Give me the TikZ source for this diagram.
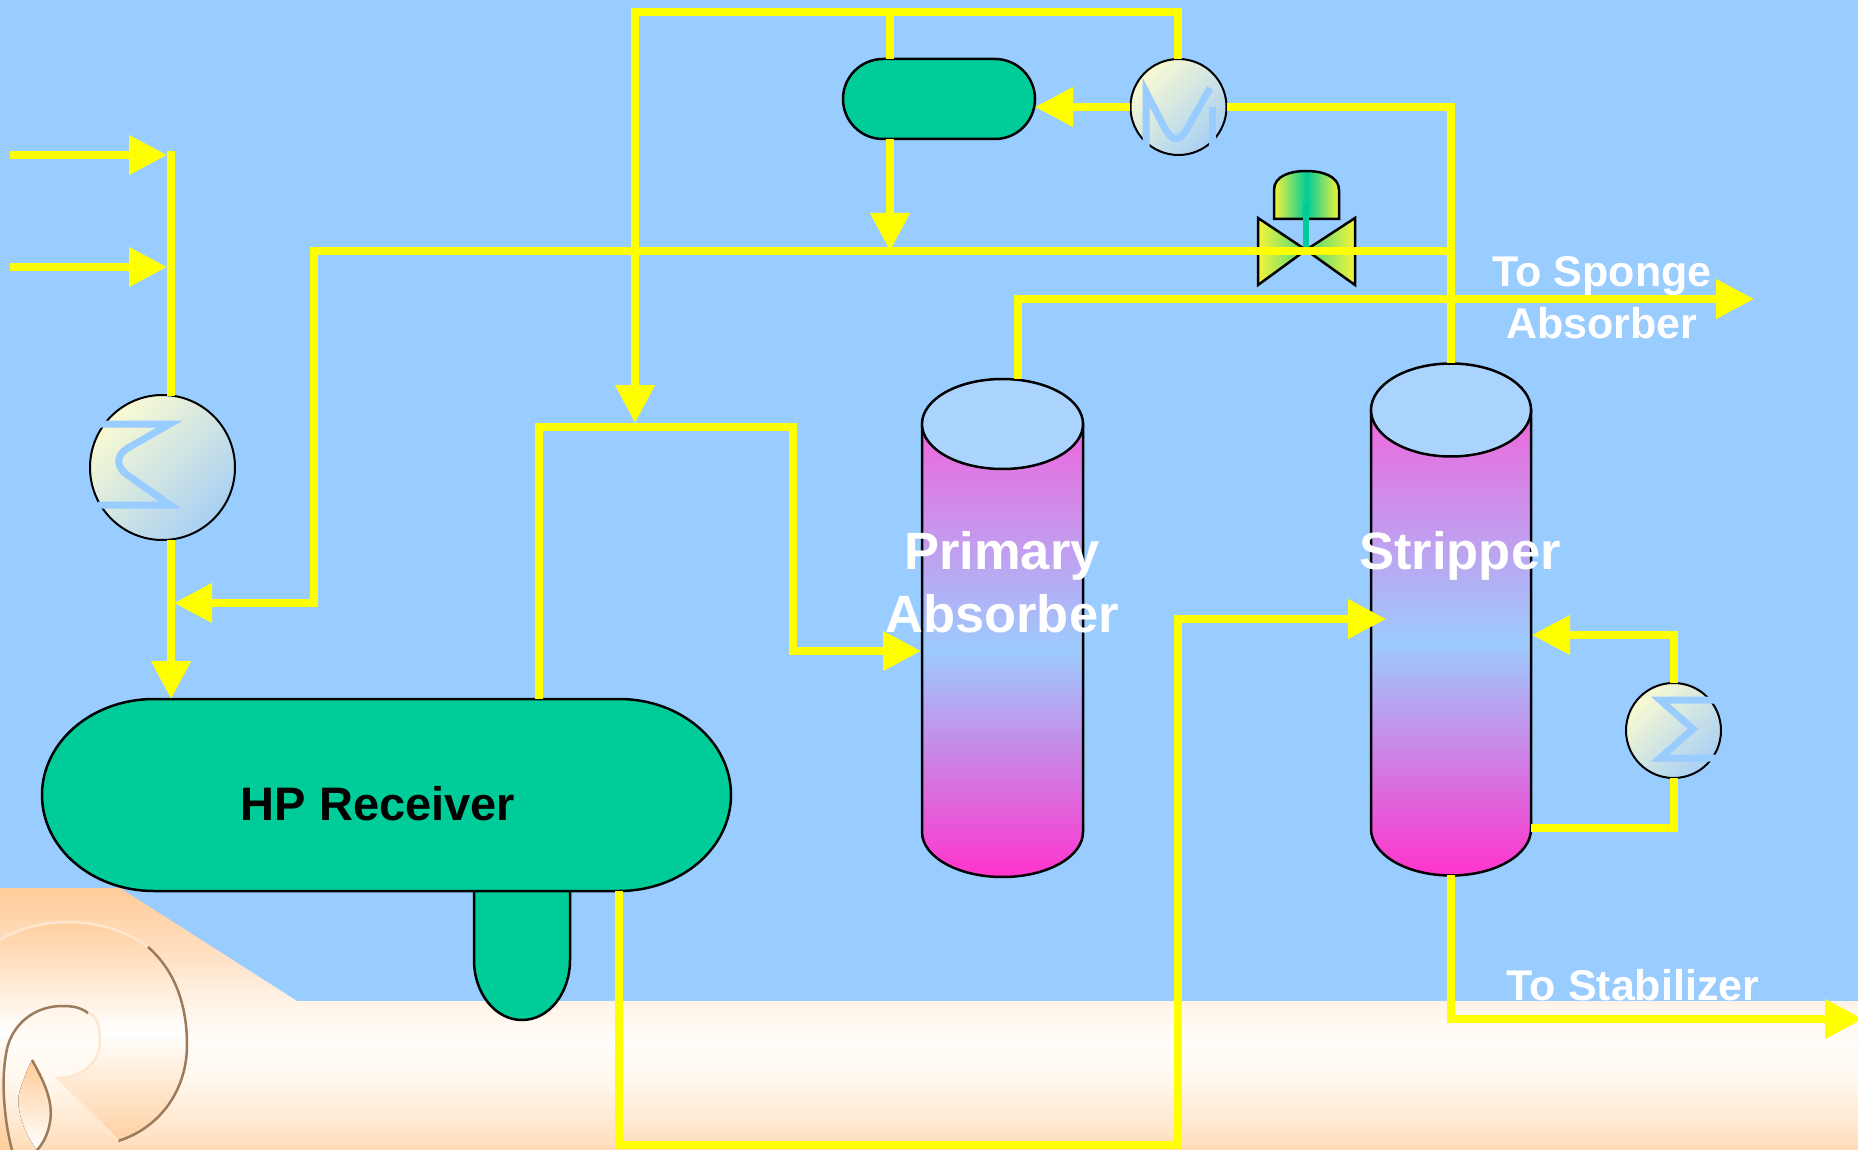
\documentclass[tikz,border=0pt]{standalone}
\usepackage{fontspec}
\setmainfont{Liberation Sans}
\usetikzlibrary{arrows.meta}

% palette
\definecolor{bgblue}{HTML}{99CCFF}
\definecolor{pipeyellow}{HTML}{FFFF00}
\definecolor{vesselgreen}{HTML}{00CC99}
\definecolor{towertop}{HTML}{EE66DD}
\definecolor{towermid}{HTML}{9DCBFD}
\definecolor{towerbot}{HTML}{FF33CC}
\definecolor{towercap}{HTML}{AAD4FE}
\definecolor{hxlight}{HTML}{FAFAD2}
\definecolor{hxblue}{HTML}{A8D0F4}
\definecolor{valveyellow}{HTML}{F4F43A}
\definecolor{peach}{HTML}{FFCC99}
\definecolor{bandA}{HTML}{FFE2C6}
\definecolor{bandB}{HTML}{FFF3E6}
\definecolor{bandC}{HTML}{FFFDF8}
\definecolor{bandD}{HTML}{FFF8EE}
\definecolor{bandE}{HTML}{FFE9D2}
\definecolor{bandF}{HTML}{FFDCB8}
\definecolor{logobrown}{HTML}{9C7B5C}
\definecolor{logolight}{HTML}{FFE6CF}

% ground band: peach at the top, almost white in the middle, peach again below
\pgfdeclareverticalshading{groundband}{100bp}{%
  color(0bp)=(bandF); color(25bp)=(bandF); color(30.7bp)=(bandE);
  color(38.4bp)=(bandD); color(46bp)=(bandC); color(53.6bp)=(bandB);
  color(61.3bp)=(bandA); color(75bp)=(peach); color(100bp)=(peach)}

% column: shaded shell with a rounded bottom and a light elliptical top
% #1 centre x, #2 radius x, #3 top centre y, #4 bottom centre y, #5 radius y
\newcommand{\drawtower}[5]{%
  \pgfmathsetmacro\twl{#1-#2}\pgfmathsetmacro\twr{#1+#2}%
  \pgfmathsetmacro\twkx{0.5523*#2}\pgfmathsetmacro\twky{#4+0.5523*#5}%
  \pgfmathsetmacro\twb{#4+#5}%
  \shadedraw[tower]
    (\twl,#3) -- (\twl,#4)
    .. controls (\twl,\twky) and (#1-\twkx,\twb) .. (#1,\twb)
    .. controls (#1+\twkx,\twb) and (\twr,\twky) .. (\twr,#4)
    -- (\twr,#3) -- cycle;
  \filldraw[fill=towercap, draw=black, line width=2.5pt]
    (#1,#3) ellipse [x radius=#2, y radius=#5];
}

\tikzset{
  pipe/.style={draw=pipeyellow, line width=7.5pt},
  flow/.style={pipe, -{Triangle[length=38pt,width=38pt]}},
  vessel/.style={fill=vesselgreen, draw=black, line width=2.5pt},
  tower/.style={top color=towertop, bottom color=towerbot, middle color=towermid,
                draw=black, line width=2.5pt},
  hx/.style={top color=hxlight, bottom color=hxblue, shading angle=45,
             draw=black, line width=2pt},
  hxsym/.style={draw=bgblue, line width=7pt},
  valvebody/.style={draw=black, line width=2.5pt},
  whitelabel/.style={anchor=base, inner sep=0pt, text=white},
  bigfont/.style={font=\bfseries\fontsize{52.5}{60}\selectfont},
  smallfont/.style={font=\bfseries\fontsize{43}{50}\selectfont},
}

\begin{document}
\begin{tikzpicture}[x=1pt, y=-1pt]
\useasboundingbox (0,0) rectangle (1858,1150);

% sky and ground
\fill[bgblue] (0,0) rectangle (1858,1150);
\shade[shading=groundband]
  (0,888) -- (120,888) -- (297,1001) -- (1858,1001) -- (1858,1150) -- (0,1150) -- cycle;

% logo swirl in the corner
\shade[top color=peach, bottom color=peach, middle color=white]
  (0,940) .. controls (40,915) and (105,915) .. (148,947)
  .. controls (172,968) and (187,1000) .. (187,1045)
  .. controls (187,1090) and (160,1128) .. (118,1141)
  -- (58,1078)
  .. controls (82,1078) and (101,1062) .. (100,1040)
  .. controls (100,1025) and (96,1015) .. (88,1013)
  .. controls (80,1007) and (72,1006) .. (62,1006)
  .. controls (38,1006) and (16,1020) .. (8,1045)
  .. controls (0,1075) and (4,1120) .. (12,1150)
  -- (0,1150) -- cycle;
\draw[logolight, line width=2.5pt]
  (0,940) .. controls (40,915) and (105,915) .. (148,947);
\draw[logobrown, line width=2.5pt]
  (148,947) .. controls (172,968) and (187,1000) .. (187,1045)
  .. controls (187,1090) and (160,1128) .. (118,1141);
\draw[logolight, line width=2.5pt]
  (118,1141) -- (58,1078)
  .. controls (82,1078) and (101,1062) .. (100,1040)
  .. controls (100,1025) and (96,1015) .. (88,1013);
\draw[logobrown, line width=2.5pt]
  (88,1013) .. controls (80,1007) and (72,1006) .. (62,1006)
  .. controls (38,1006) and (16,1020) .. (8,1045)
  .. controls (0,1075) and (4,1120) .. (12,1150);
\fill[top color=peach, bottom color=white]
  (32,1060) .. controls (42,1078) and (54,1100) .. (50,1122)
  .. controls (48,1135) and (42,1145) .. (37,1150)
  .. controls (22,1130) and (15,1105) .. (20,1090)
  .. controls (24,1078) and (28,1068) .. (32,1060) -- cycle;
\draw[logobrown, line width=2.5pt]
  (32,1060) .. controls (42,1078) and (54,1100) .. (50,1122)
  .. controls (48,1135) and (42,1145) .. (37,1150);

% HP receiver with its boot
\filldraw[vessel] (474,880) -- (474,960)
  .. controls (474,993) and (495,1020) .. (522,1020)
  .. controls (549,1020) and (570,993) .. (570,960) -- (570,880);
\filldraw[vessel] (154,699) -- (619,699)
  .. controls (681,699) and (731,742) .. (731,795)
  .. controls (731,848) and (681,891) .. (619,891) -- (154,891)
  .. controls (92,891) and (42,848) .. (42,795)
  .. controls (42,742) and (92,699) .. (154,699) -- cycle;
\node[anchor=base, inner sep=0pt, font=\bfseries\fontsize{47}{54}\selectfont]
  (hplabel) at (378,820) {HP Receiver};

% overhead reflux drum
\filldraw[vessel, rounded corners=40pt] (843,59) rectangle (1035,139);

% columns
\drawtower{1002.5}{80.5}{424}{832}{45}
\drawtower{1451}{80}{410}{829}{46.5}
\node[whitelabel, bigfont] (primA) at (1002,569) {Primary};
\node[whitelabel, bigfont] (primB) at (1002,632) {Absorber};
\node[whitelabel, bigfont] (striplabel) at (1460,569) {Stripper};

% heat exchangers
\shadedraw[hx] (162.5,467.5) circle [radius=72.5];
\draw[hxsym] (98,424) -- (170,424) -- (128,448)
  .. controls (116,455) and (116,466) .. (126,474) -- (170,505) -- (98,505);
\shadedraw[hx] (1178.5,107) circle [radius=48];
\draw[hxsym] (1146,150) -- (1146,92) -- (1163,125)
  .. controls (1172,143) and (1180,143) .. (1188,127) -- (1210,88);
\draw[hxsym] (1212,107) -- (1212,150);
\shadedraw[hx] (1673.5,730.5) circle [radius=47.5];
\draw[hxsym] (1726,700) -- (1660,700) -- (1693,729) -- (1660,758) -- (1726,758);

% control valve on the recycle line
\shadedraw[valvebody, left color=valveyellow, right color=vesselgreen!70!valveyellow]
  (1258,218) -- (1306,250) -- (1258,285) -- cycle;
\shadedraw[valvebody, left color=vesselgreen!70!valveyellow, right color=valveyellow]
  (1355,218) -- (1306,250) -- (1355,285) -- cycle;
\shadedraw[valvebody, left color=valveyellow, right color=valveyellow, middle color=vesselgreen]
  (1274,219) -- (1274,190) .. controls (1274,176) and (1290,171) .. (1306,171)
  .. controls (1322,171) and (1339,176) .. (1339,190) -- (1339,219) -- cycle;
\draw[vesselgreen, line width=6pt] (1306,203) -- (1306,247);

% pipe ports and corners
\coordinate (feedA) at (10,155);
\coordinate (feedAin) at (167,155);
\coordinate (feedB) at (10,267);
\coordinate (feedBin) at (167,267);
\coordinate (header) at (171,151);
\coordinate (hxAtop) at (171,396);
\coordinate (hxAbot) at (171,540);
\coordinate (recvIn) at (171,699);
\coordinate (recycleEnd) at (1451,251);
\coordinate (recycleCorner) at (314,251);
\coordinate (recycleIn) at (174,603);
\coordinate (drumBot) at (890,139);
\coordinate (drumTop) at (890,59);
\coordinate (drumDrop) at (890,251);
\coordinate (condTop) at (1178,59);
\coordinate (condLeft) at (1130,107);
\coordinate (condRight) at (1227,107);
\coordinate (drumIn) at (1035,107);
\coordinate (topRun) at (1178,12);
\coordinate (vapourDrop) at (635,12);
\coordinate (vapourIn) at (635,423);
\coordinate (recvGas) at (539,699);
\coordinate (gasCorner) at (793,427);
\coordinate (primIn) at (921,651);
\coordinate (primTop) at (1018,379);
\coordinate (spongeOut) at (1754,299);
\coordinate (stripTop) at (1451,363);
\coordinate (recvLiq) at (619,891);
\coordinate (liqBottom) at (619,1145);
\coordinate (liqRise) at (1178,1145);
\coordinate (stripIn) at (1386,619);
\coordinate (stripBot) at (1451,875);
\coordinate (stabOut) at (1863,1019);
\coordinate (rebDraw) at (1531,828);
\coordinate (rebBot) at (1674,778);
\coordinate (rebTop) at (1674,683);
\coordinate (rebReturn) at (1532,635);

% feeds and receiver inlet
\draw[flow] (feedA) -- (feedAin);
\draw[flow] (feedB) -- (feedBin);
\draw[pipe] (header) -- (hxAtop);
\draw[flow] (hxAbot) -- (recvIn);

% recycle through the control valve
\draw[flow] (recycleEnd) -- (recycleCorner) -- (recycleCorner |- recycleIn) -- (recycleIn);
\draw[flow] (drumBot) -- (drumDrop);

% overhead loop: condenser, drum and vapour return
\draw[flow] (condTop) -- (topRun) -- (vapourDrop) -- (vapourIn);
\draw[pipe] (drumTop |- topRun) -- (drumTop);
\draw[flow] (condLeft) -- (drumIn);
\draw[pipe] (stripTop) -- (stripTop |- condRight) -- (condRight);

% receiver vapour to primary absorber
\draw[flow] (recvGas) -- (recvGas |- gasCorner) -- (gasCorner) -- (gasCorner |- primIn) -- (primIn);

% primary absorber overhead to sponge absorber
\draw[flow] (primTop) -- (primTop |- spongeOut) -- (spongeOut);

% receiver liquid to stripper
\draw[flow] (recvLiq) -- (liqBottom) -- (liqRise) -- (liqRise |- stripIn) -- (stripIn);

% stripper bottoms to stabilizer
\draw[flow] (stripBot) -- (stripBot |- stabOut) -- (stabOut);

% reboiler circuit
\draw[pipe] (rebDraw) -- (rebDraw -| rebBot) -- (rebBot);
\draw[flow] (rebTop) -- (rebTop |- rebReturn) -- (rebReturn);

% outlet labels
\node[whitelabel, smallfont] (spongeA) at (1602,287) {To Sponge};
\node[whitelabel, smallfont] (spongeB) at (1602,338) {Absorber};
\node[whitelabel, smallfont] (stablabel) at (1633,1000) {To Stabilizer};
\end{tikzpicture}
\end{document}
